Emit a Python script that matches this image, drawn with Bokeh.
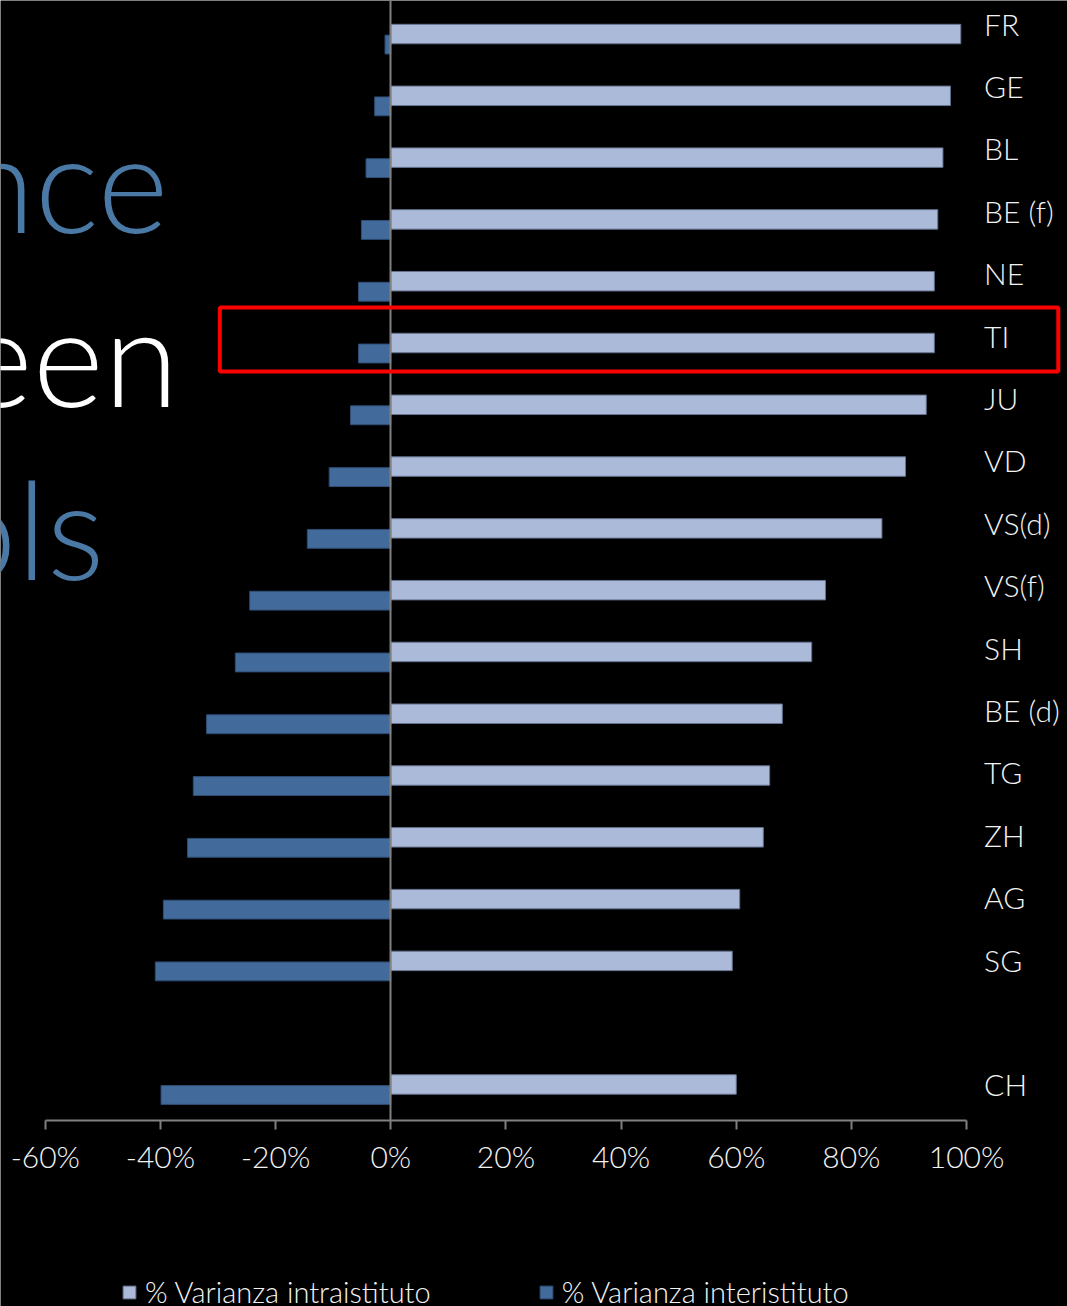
from bokeh.plotting import figure
from bokeh.models import (Range1d, LinearAxis, FixedTicker, PrintfTickFormatter,
                          ColumnDataSource, Legend, LegendItem, BoxAnnotation, Label)
from bokeh.transform import dodge
from bokeh.core.properties import value
from bokeh.embed import file_html
from bokeh.resources import INLINE

# ---------------- data ----------------
categories = ["FR", "GE", "BL", "BE (f)", "NE", "TI", "JU", "VD", "VS(d)", "VS(f)",
              "SH", "BE (d)", "TG", "ZH", "AG", "SG", "", "CH"]
intra = [99.0, 97.2, 95.9, 95.0, 94.4, 94.4, 93.0, 89.4, 85.3, 75.5,
         73.1, 68.0, 65.8, 64.7, 60.6, 59.3, float("nan"), 60.0]
inter = [-1.0, -2.8, -4.3, -5.1, -5.6, -5.6, -7.0, -10.7, -14.5, -24.5,
         -27.0, -32.0, -34.3, -35.3, -39.5, -40.9, float("nan"), -39.9]
x_ticks = [-60, -40, -20, 0, 20, 40, 60, 80, 100]
series_names = ["% Varianza intraistituto", "% Varianza interistituto"]
highlight = "TI"
backdrop_words = ["nce", "een", "ols"]

# ---------------- styles ----------------
FONT = "Lato Light"
LIGHT = "#abbad9"
DARK = "#426b9c"
GRID_GREY = "#808080"
TEXT = "#f2f2f2"
STEEL = "#4a79a6"

W, H = 1067, 1306
px_per_pct = 5.7575
zero_px = 390.3
x_start = -zero_px / px_per_pct
x_end = (W - zero_px) / px_per_pct

row_px = 61.79
row0_px = 38.8
y_top = -row0_px / row_px
y_bottom = (H - row0_px) / row_px

lab_px = 62.41
lab0_px = 23.0

rows = list(range(len(categories)))
src = ColumnDataSource(dict(cat=categories, row=rows, intra=intra, inter=inter))

p = figure(width=W, height=H, output_backend="svg", toolbar_location=None,
           x_range=Range1d(x_start, x_end), y_range=Range1d(y_bottom, y_top),
           x_axis_type=None, y_axis_type=None, min_border=0,
           background_fill_color="black", border_fill_color="black",
           outline_line_color=None)
p.extra_y_ranges = {"labels": Range1d((H - lab0_px) / lab_px, -lab0_px / lab_px)}

r_dark = p.hbar(y=dodge("row", 0.085, range=p.y_range), left=0, right="inter",
                height=0.305, source=src, fill_color=DARK, line_color="#2e4e76",
                line_width=1)
r_light = p.hbar(y=dodge("row", -0.085, range=p.y_range), left=0, right="intra",
                 height=0.315, source=src, fill_color=LIGHT, line_color="#66738f",
                 line_width=1)

# category labels on the right
p.text(x=103.05, y="row", text="cat", source=src, y_range_name="labels",
       text_font=value(FONT), text_font_size="30px", text_color=TEXT,
       text_align="left", text_baseline="middle")

n_rows = len(categories)
axis_y = n_rows - 0.5

# x axis
xaxis = LinearAxis(fixed_location=axis_y, bounds=(x_ticks[0], x_ticks[-1]),
                   ticker=FixedTicker(ticks=x_ticks, minor_ticks=[]),
                   formatter=PrintfTickFormatter(format="%d%%"))
xaxis.axis_line_color = GRID_GREY
xaxis.axis_line_width = 2
xaxis.major_tick_line_color = GRID_GREY
xaxis.major_tick_line_width = 2
xaxis.major_tick_out = 9
xaxis.major_tick_in = 0
xaxis.minor_tick_line_color = None
xaxis.major_label_text_font = FONT
xaxis.major_label_text_font_size = "30px"
xaxis.major_label_text_color = TEXT
xaxis.major_label_standoff = 8
p.add_layout(xaxis, "below")

# vertical zero axis
yaxis = LinearAxis(fixed_location=0, bounds=(y_top, axis_y),
                   ticker=FixedTicker(ticks=[], minor_ticks=[]))
yaxis.axis_line_color = GRID_GREY
yaxis.axis_line_width = 2
yaxis.major_tick_line_color = None
yaxis.minor_tick_line_color = None
yaxis.major_label_text_alpha = 0
p.add_layout(yaxis, "left")

# highlight box around TI
hi = categories.index(highlight)
p.add_layout(BoxAnnotation(left=-29.7, right=x_end - 1.6, top=hi - 0.658, bottom=hi + 0.378,
                           fill_alpha=0, line_color="#ff0000", line_alpha=1.0,
                           line_width=4))

# partially visible slide title behind the chart
for word, (xr, yb), col in zip(backdrop_words,
                               [(168, 1126), (178, 952), (104, 779)],
                               [STEEL, "white", STEEL]):
    p.add_layout(Label(x=xr, y=yb, x_units="screen", y_units="screen", text=word,
                       text_font=FONT, text_font_size="136px", text_color=col,
                       text_align="right", text_baseline="alphabetic"))

legend = Legend(items=[LegendItem(label=series_names[0], renderers=[r_light]),
                       LegendItem(label=series_names[1], renderers=[r_dark])],
                orientation="horizontal", location=(121, -3),
                glyph_width=16, glyph_height=16, label_standoff=8, spacing=107,
                padding=0, margin=0, border_line_alpha=0, background_fill_alpha=0,
                label_text_font=FONT, label_text_font_size="29px", label_text_color=TEXT)
p.add_layout(legend)

html = file_html(p, INLINE)
html = html.replace("<body>", '<body style="background-color:#000000;">', 1)
open("out.html", "w").write(html)
